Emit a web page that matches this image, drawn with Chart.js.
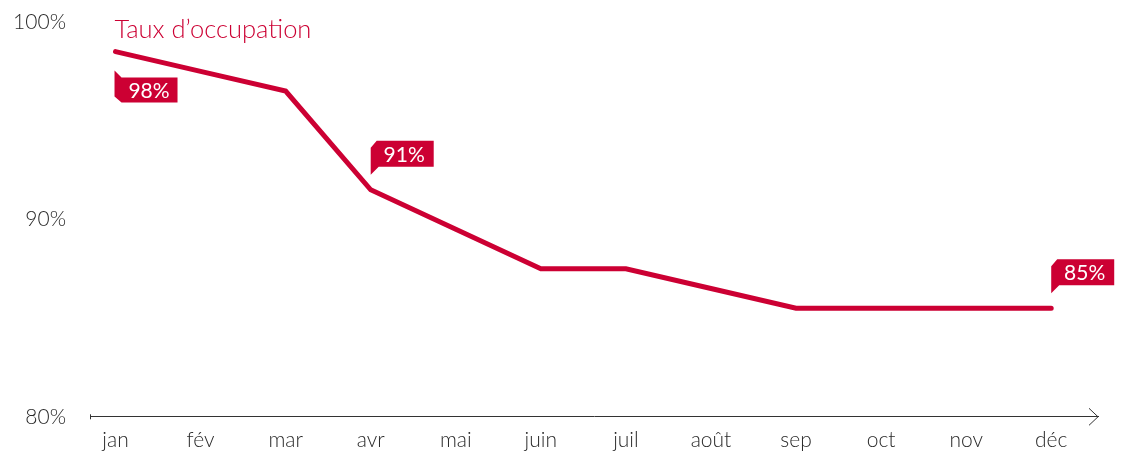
<!DOCTYPE html>
<html>
<head>
<meta charset="utf-8">
<script src="https://cdn.jsdelivr.net/npm/chart.js@4.4.1/dist/chart.umd.min.js"></script>
<style>
  html, body { margin: 0; padding: 0; background: #fff; }
  #wrap { width: 1126px; height: 452px; position: relative; }
</style>
</head>
<body>
<div id="wrap"><canvas id="chart"></canvas></div>
<script>
const MONTHS = ['jan', 'fév', 'mar', 'avr', 'mai', 'juin', 'juil', 'août', 'sep', 'oct', 'nov', 'déc']
const OCCUPANCY = [98.5, 97.5, 96.5, 91.5, 89.5, 87.5, 87.5, 86.5, 85.5, 85.5, 85.5, 85.5]
const Y_TICKS = [80, 90, 100]
const SERIES_LABEL = 'Taux d’occupation'
const BADGE_MONTHS = ['jan', 'avr', 'déc']
const BADGE_TEXTS = ['98%', '91%', '85%']

const RED = '#cc0033'
const FONT = 'Lato, "Open Sans", sans-serif'

// flag-shaped value badges, title and axis arrow
const decorations = {
  id: 'decorations',
  afterDatasetsDraw(chart) {
    const ctx = chart.ctx
    const pts = chart.getDatasetMeta(0).data
    const area = chart.chartArea
    ctx.save()

    // series name
    ctx.fillStyle = RED
    ctx.font = '300 25.5px ' + FONT
    ctx.textBaseline = 'middle'
    ctx.textAlign = 'left'
    ctx.fillText(SERIES_LABEL, pts[0].x - 1, area.top + 8)

    // badges
    BADGE_MONTHS.forEach((m, i) => {
      const p = pts[MONTHS.indexOf(m)]
      const x = p.x, w = 63
      ctx.beginPath()
      let top, bottom
      if (i === 0) {
        top = p.y + 26; bottom = p.y + 51
        ctx.moveTo(x - 1, p.y + 19)
        ctx.lineTo(x + 6, top)
        ctx.lineTo(x - 1 + w, top)
        ctx.lineTo(x - 1 + w, bottom)
        ctx.lineTo(x + 6, bottom)
        ctx.lineTo(x - 1, bottom - 6)
      } else {
        bottom = p.y - 23; top = bottom - 26
        ctx.moveTo(x, top + 7)
        ctx.lineTo(x + 6, top)
        ctx.lineTo(x + w, top)
        ctx.lineTo(x + w, bottom)
        ctx.lineTo(x + 8, bottom)
        ctx.lineTo(x, bottom + 8)
      }
      ctx.closePath()
      ctx.fillStyle = RED
      ctx.fill()
      ctx.fillStyle = '#fff'
      ctx.font = '21px ' + FONT
      ctx.textAlign = 'center'
      ctx.textBaseline = 'middle'
      ctx.fillText(BADGE_TEXTS[i], x + 5 + (w - 6) / 2, (top + bottom) / 2 + 1)
    })

    // x axis arrow + left tick
    ctx.strokeStyle = '#333'
    ctx.lineWidth = 1
    ctx.beginPath()
    ctx.moveTo(area.right - 9, area.bottom - 8.5)
    ctx.lineTo(area.right, area.bottom)
    ctx.lineTo(area.right - 9, area.bottom + 8.5)
    ctx.moveTo(area.left + 0.5, area.bottom - 2.5)
    ctx.lineTo(area.left + 0.5, area.bottom + 2.5)
    ctx.stroke()
    ctx.restore()
  }
}

new Chart(document.getElementById('chart'), {
  type: 'line',
  data: {
    datasets: [{
      label: SERIES_LABEL,
      data: OCCUPANCY.map((v, i) => ({ x: i, y: v })),
      borderColor: RED,
      borderWidth: 5,
      borderCapStyle: 'round',
      tension: 0,
      pointRadius: 0,
      fill: false,
      clip: false,
    }]
  },
  options: {
    responsive: true,
    maintainAspectRatio: false,
    animation: false,
    layout: { padding: { top: 22, right: 28, left: 0, bottom: -12 } },
    plugins: { legend: { display: false }, tooltip: { enabled: false } },
    scales: {
      x: {
        type: 'linear',
        min: -0.3,
        max: 11.55,
        grid: { display: false, drawTicks: false },
        border: { display: true, color: '#333', width: 1 },
        afterBuildTicks: (s) => { s.ticks = MONTHS.map((_, i) => ({ value: i })) },
        ticks: {
          autoSkip: false,
          maxRotation: 0,
          padding: 11,
          color: '#2a2a2a',
          font: { family: FONT, size: 21, weight: 300 },
          callback: (v) => MONTHS[v],
        },
      },
      y: {
        min: 80,
        max: 100,
        grid: { display: false, drawTicks: false },
        border: { display: false },
        afterFit: (s) => { s.width = 90; s.paddingTop = 0; s.paddingBottom = 0 },
        afterBuildTicks: (s) => { s.ticks = Y_TICKS.map((v) => ({ value: v })) },
        ticks: {
          padding: 24,
          color: '#2a2a2a',
          font: { family: FONT, size: 21, weight: 300 },
          callback: (v) => v + '%',
        },
      },
    },
  },
  plugins: [decorations],
})
</script>
</body>
</html>
